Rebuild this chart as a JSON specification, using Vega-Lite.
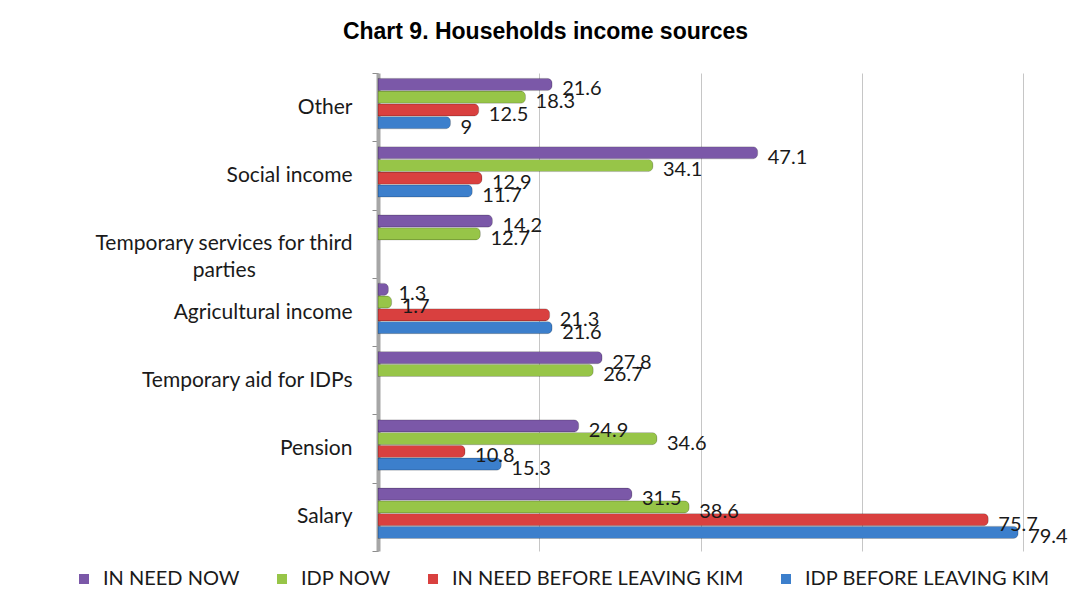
{
  "$schema": "https://vega.github.io/schema/vega-lite/v6.json",
  "width": 645,
  "height": 478,
  "autosize": {"type": "none"},
  "padding": {"left": 378, "top": 73, "right": 47, "bottom": 59},
  "background": "white",
  "title": {
    "text": "Chart 9. Households income sources",
    "font": "Liberation Sans",
    "fontSize": 23,
    "fontWeight": "bold",
    "color": "#000000",
    "anchor": "middle",
    "dx": -155,
    "offset": 18
  },
  "data": {
    "values": [
      {"category": "Other", "series": "IN NEED NOW", "value": 21.6},
      {"category": "Other", "series": "IDP NOW", "value": 18.3},
      {"category": "Other", "series": "IN NEED BEFORE LEAVING KIM", "value": 12.5},
      {"category": "Other", "series": "IDP BEFORE LEAVING KIM", "value": 9},
      {"category": "Social income ", "series": "IN NEED NOW", "value": 47.1},
      {"category": "Social income ", "series": "IDP NOW", "value": 34.1},
      {"category": "Social income ", "series": "IN NEED BEFORE LEAVING KIM", "value": 12.9},
      {"category": "Social income ", "series": "IDP BEFORE LEAVING KIM", "value": 11.7},
      {"category": "Temporary services for third parties", "series": "IN NEED NOW", "value": 14.2},
      {"category": "Temporary services for third parties", "series": "IDP NOW", "value": 12.7},
      {"category": "Agricultural income", "series": "IN NEED NOW", "value": 1.3},
      {"category": "Agricultural income", "series": "IDP NOW", "value": 1.7},
      {"category": "Agricultural income", "series": "IN NEED BEFORE LEAVING KIM", "value": 21.3},
      {"category": "Agricultural income", "series": "IDP BEFORE LEAVING KIM", "value": 21.6},
      {"category": "Temporary aid for IDPs", "series": "IN NEED NOW", "value": 27.8},
      {"category": "Temporary aid for IDPs", "series": "IDP NOW", "value": 26.7},
      {"category": "Pension ", "series": "IN NEED NOW", "value": 24.9},
      {"category": "Pension ", "series": "IDP NOW", "value": 34.6},
      {"category": "Pension ", "series": "IN NEED BEFORE LEAVING KIM", "value": 10.8},
      {"category": "Pension ", "series": "IDP BEFORE LEAVING KIM", "value": 15.3},
      {"category": "Salary", "series": "IN NEED NOW", "value": 31.5},
      {"category": "Salary", "series": "IDP NOW", "value": 38.6},
      {"category": "Salary", "series": "IN NEED BEFORE LEAVING KIM", "value": 75.7},
      {"category": "Salary", "series": "IDP BEFORE LEAVING KIM", "value": 79.4}
    ]
  },
  "encoding": {
    "y": {
      "field": "category",
      "type": "nominal",
      "sort": ["Other", "Social income ", "Temporary services for third parties", "Agricultural income", "Temporary aid for IDPs", "Pension ", "Salary"],
      "scale": {"paddingInner": 0, "paddingOuter": 0},
      "axis": {
        "title": null,
        "labelFont": "Lato",
        "labelFontSize": 21,
        "labelColor": "#1a1a1a",
        "labelPadding": 20,
        "labelLimit": 340,
        "labelLineHeight": 27,
        "labelExpr": "datum.label == 'Temporary services for third parties' ? ['Temporary services for third', 'parties\u00a0\u00a0\u00a0\u00a0\u00a0\u00a0\u00a0\u00a0\u00a0\u00a0\u00a0\u00a0\u00a0\u00a0\u00a0\u00a0\u00a0\u00a0\u200b'] : datum.label",
        "domainColor": "#a6a6a6",
        "domainWidth": 4,
        "tickColor": "#8c8c8c",
        "tickSize": 6,
        "tickBand": "extent",
        "ticks": true
      }
    },
    "yOffset": {
      "field": "series",
      "type": "nominal",
      "sort": ["IN NEED NOW", "IDP NOW", "IN NEED BEFORE LEAVING KIM", "IDP BEFORE LEAVING KIM"],
      "scale": {"paddingInner": 0.04, "paddingOuter": 0.7, "align": 0.3}
    },
    "x": {
      "field": "value",
      "type": "quantitative",
      "scale": {"domain": [0, 80], "nice": false},
      "axis": {
        "title": null,
        "labels": false,
        "ticks": false,
        "domain": false,
        "grid": true,
        "gridColor": "#c6c6c6",
        "gridWidth": 1,
        "tickCount": 4
      }
    }
  },
  "layer": [
    {
      "mark": {"type": "bar", "cornerRadiusEnd": 5, "stroke": "#00000033", "strokeWidth": 0.8},
      "encoding": {
        "color": {
          "field": "series",
          "type": "nominal",
          "sort": ["IN NEED NOW", "IDP NOW", "IN NEED BEFORE LEAVING KIM", "IDP BEFORE LEAVING KIM"],
          "scale": {
            "domain": ["IN NEED NOW", "IDP NOW", "IN NEED BEFORE LEAVING KIM", "IDP BEFORE LEAVING KIM"],
            "range": ["#7b58a8", "#97c548", "#d9403f", "#3c7fcc"]
          },
          "legend": {
            "title": null,
            "orient": "none",
            "direction": "horizontal",
            "legendX": -304,
            "legendY": 496,
            "symbolType": "square",
            "symbolSize": 100,
            "symbolStrokeWidth": 0,
            "labelFont": "Lato",
            "labelFontSize": 20,
            "labelColor": "#1a1a1a",
            "labelLimit": 400,
            "columnPadding": 32,
            "labelOffset": 9
          }
        }
      }
    },
    {
      "mark": {"type": "text", "align": "left", "baseline": "middle", "dx": 10, "dy": 5, "font": "Lato", "fontSize": 20, "color": "#1a1a1a"},
      "encoding": {
        "text": {"field": "value", "type": "quantitative"}
      }
    }
  ],
  "config": {
    "view": {"stroke": null}
  }
}
